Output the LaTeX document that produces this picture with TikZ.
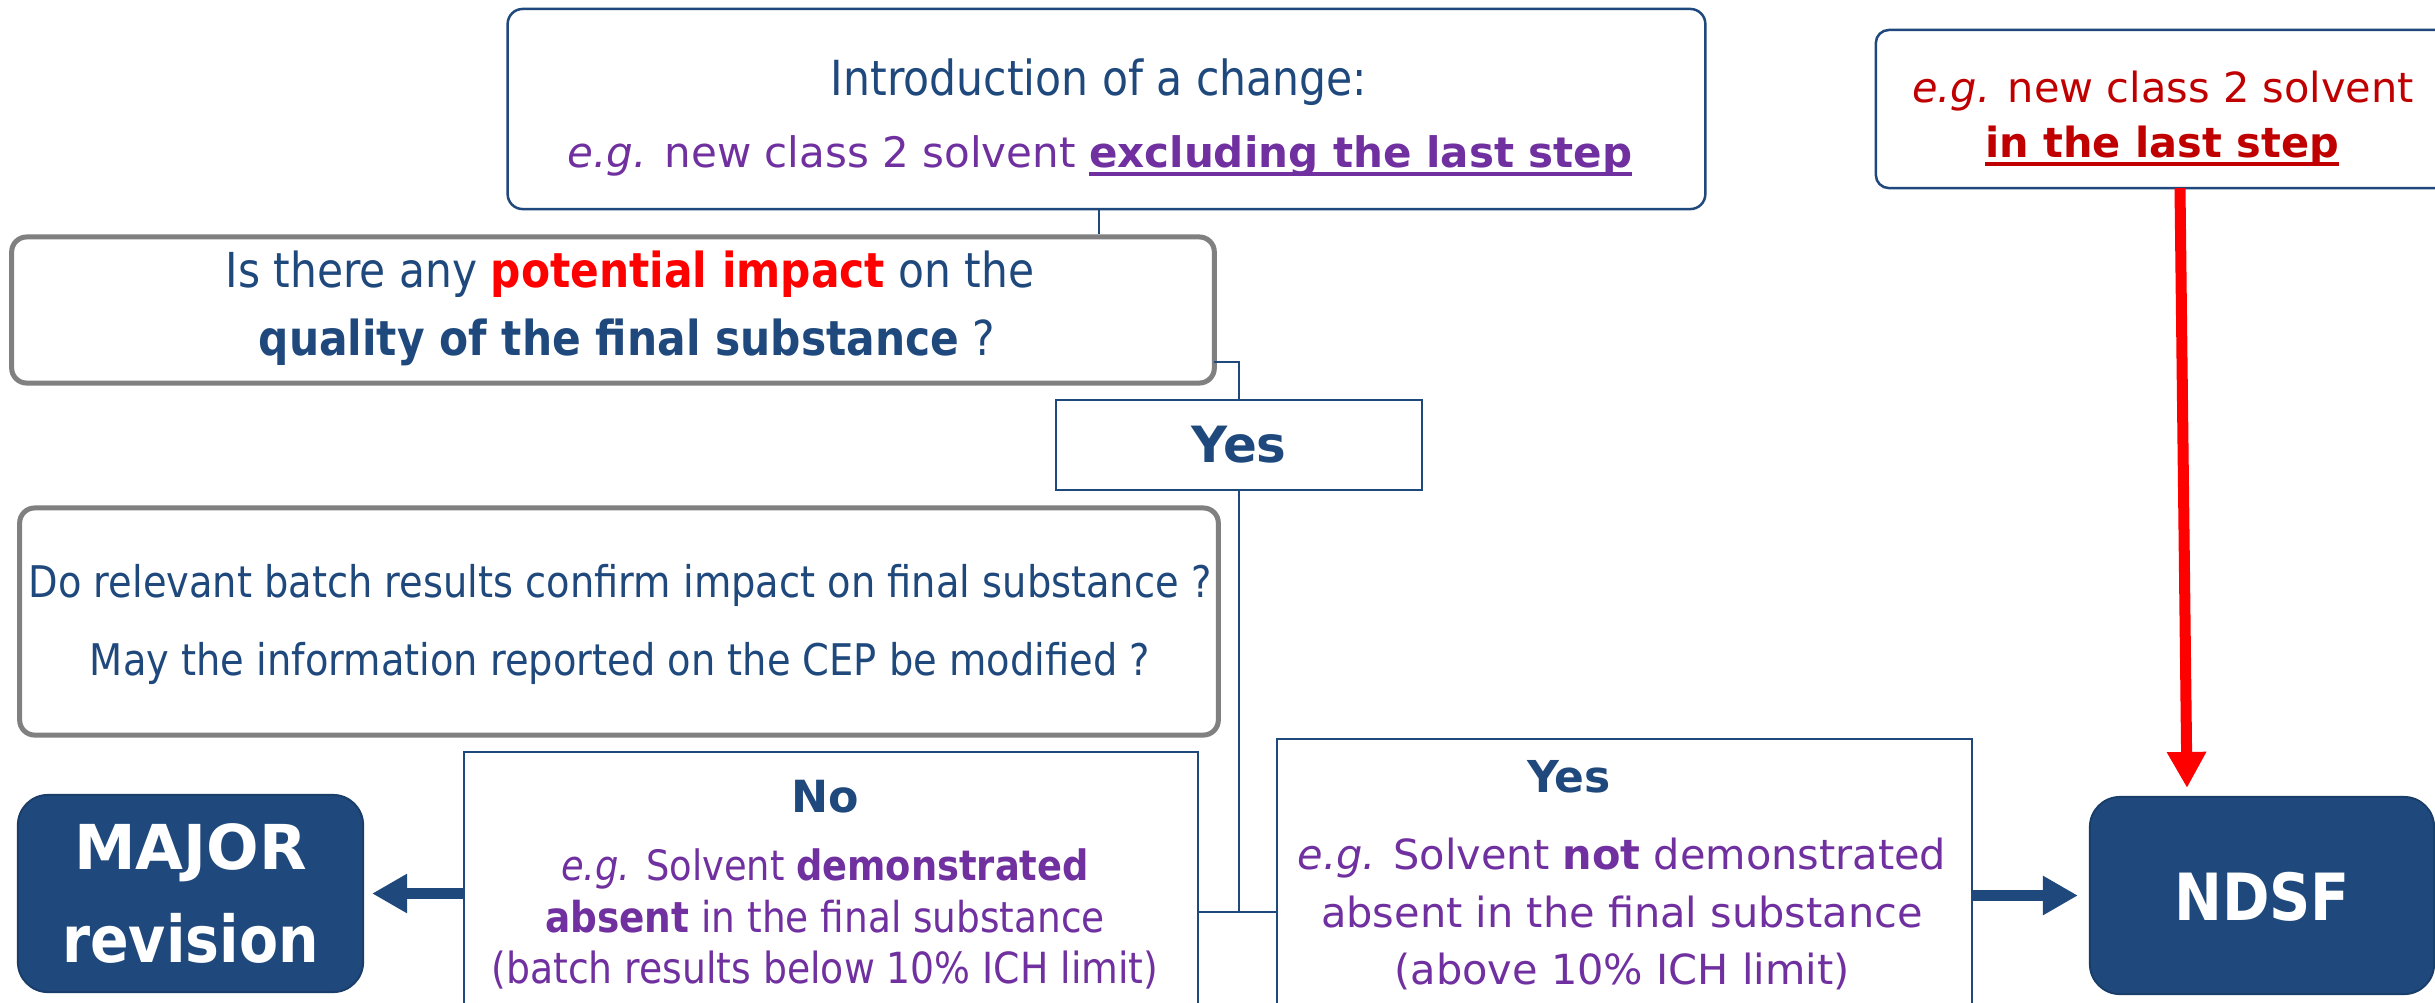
\documentclass[tikz,border=0pt]{standalone}
\usepackage{fontspec}
\setmainfont{DejaVu Sans}
\newfontfamily\tah[FakeStretch=0.88]{DejaVu Sans}
\usetikzlibrary{arrows.meta,calc}
\definecolor{dblue}{HTML}{1F497D}
\definecolor{purp}{HTML}{7030A0}
\definecolor{dred}{HTML}{C00000}
\definecolor{gbord}{HTML}{808080}
\definecolor{bright}{HTML}{FF0000}
\newcommand{\fs}[1]{\fontsize{#1}{#1}\selectfont}
\newcommand{\ulx}[1]{\setbox0=\hbox{#1}\rlap{\rule[-2.6pt]{\wd0}{1.2pt}}\box0}
\tikzset{
  bluebox/.style={draw=dblue, line width=0.25mm, fill=white, inner sep=0pt},
  graybox/.style={draw=gbord, line width=0.5mm, fill=white, inner sep=0pt, rounded corners=0.15cm},
  darkbox/.style={draw=dblue!85!black, line width=0.2mm, fill=dblue, inner sep=0pt, rounded corners=0.3cm},
  conn/.style={draw=dblue, line width=0.2mm},
  bigarrow/.style={draw=dblue, line width=1.15mm, -{Triangle[length=3.5mm,width=3.7mm]}},
  redarrow/.style={draw=bright, line width=1.1mm, -{Triangle[length=3.6mm,width=3.7mm]}},
  txt/.style={anchor=base, inner sep=0pt},
}
\begin{document}
\begin{tikzpicture}[x=0.01cm,y=-0.01cm]
\clip (0,0) rectangle (2435,1002);
\fill[white] (0,0) rectangle (2435,1002);
% boxes
\node[bluebox, rounded corners=0.15cm, minimum width=11.97cm, minimum height=2cm] (intro) at (1106.5,109) {};
\node[graybox, minimum width=12.02cm, minimum height=1.46cm] (q1) at (613,310) {};
\node[bluebox, minimum width=3.66cm, minimum height=0.9cm] (yes1) at (1239,445) {};
\node[graybox, minimum width=11.98cm, minimum height=2.27cm] (q2) at (619,621.5) {};
\node[bluebox, minimum width=7.34cm, minimum height=2.68cm] (no) at (831,886) {};
\node[bluebox, minimum width=6.95cm, minimum height=2.81cm] (yes2) at (1624.5,879.5) {};
\node[bluebox, rounded corners=0.13cm, minimum width=5.74cm, minimum height=1.58cm] (right) at (2163,109) {};
\node[darkbox, minimum width=3.45cm, minimum height=1.97cm] (major) at (190.5,893.5) {};
\node[darkbox, minimum width=3.44cm, minimum height=1.97cm] (ndsf) at (2262,895.5) {};
% texts
\node[txt, text=dblue, font=\tah\fs{13.75pt}] (t1) at (1099,95) {Introduction of a change:};
\node[txt, text=purp, font=\fs{11.95pt}] (t2) at (1100,167) {\textit{e.g.} new class 2 solvent \ulx{\textbf{excluding the last step}}};
\node[txt, text=dblue, font=\tah\fs{13.7pt}] (t3) at (630,287) {Is there any \textcolor{bright}{\textbf{potential impact}} on the};
\node[txt, text=dblue, font=\tah\fs{13.7pt}] (t4) at (627,355) {\textbf{quality of the final substance} ?};
\node[txt, text=dblue, font=\bfseries\fs{14.2pt}] (t5) at (1239,462) {Yes};
\node[txt, text=dblue, font=\tah\fs{12.4pt}] (t6) at (620,597) {Do relevant batch results confirm impact on final substance ?};
\node[txt, text=dblue, font=\tah\fs{12.4pt}] (t7) at (620,675) {May the information reported on the CEP be modified ?};
\node[txt, text=dblue, font=\bfseries\fs{12.6pt}] (t8) at (825,812) {No};
\node[txt, text=purp, font=\tah\fs{11.9pt}] (t9) at (825,880) {\textit{e.g.} Solvent \textbf{demonstrated}};
\node[txt, text=purp, font=\tah\fs{12.1pt}] (t10) at (825,932) {\textbf{absent} in the final substance};
\node[txt, text=purp, font=\tah\fs{12.2pt}] (t11) at (825,983) {(batch results below 10\% ICH limit)};
\node[txt, text=dblue, font=\bfseries\fs{12.5pt}] (t12) at (1569,792) {Yes};
\node[txt, text=purp, font=\fs{11.8pt}] (t13) at (1622,869) {\textit{e.g.} Solvent \textbf{not} demonstrated};
\node[txt, text=purp, font=\fs{11.8pt}] (t14) at (1622,927) {absent in the final substance};
\node[txt, text=purp, font=\fs{11.8pt}] (t15) at (1622,984) {(above 10\% ICH limit)};
\node[txt, text=dred, font=\fs{11.8pt}] (t16) at (2163,102) {\textit{e.g.} new class 2 solvent};
\node[txt, text=dred, font=\fs{11.8pt}] (t17) at (2162,157) {\ulx{\textbf{in the last step}}};
\node[txt, text=white, font=\bfseries\fs{17.6pt}] (t18) at (190.5,869) {MAJOR};
\node[txt, text=white, font=\tah\bfseries\fs{18.4pt}] (t19) at (190.5,962) {revision};
\node[txt, text=white, font=\tah\bfseries\fs{18.5pt}] (t20) at (2262,920) {NDSF};
% connectors
\coordinate (c1) at (1099,0);
\coordinate (j1) at (1214,362);
\coordinate (j2) at (1239,912);
\draw[conn] (intro.south -| c1) -- (q1.north -| c1);
\draw[conn] (j1) -| (yes1.north);
\draw[conn] (yes1.south) -- (j2);
\draw[conn] (no.east |- j2) -- (yes2.west |- j2);
\draw[bigarrow] (no.west |- major.east) -- ($(major.east)+(8,0)$);
\draw[bigarrow] (yes2.east |- ndsf.west) -- ($(ndsf.west)+(-11,0)$);
\coordinate (r1) at (2180,188);
\draw[redarrow] (r1) -- ($(ndsf.north)+(-75,-8)$);
\end{tikzpicture}
\end{document}
